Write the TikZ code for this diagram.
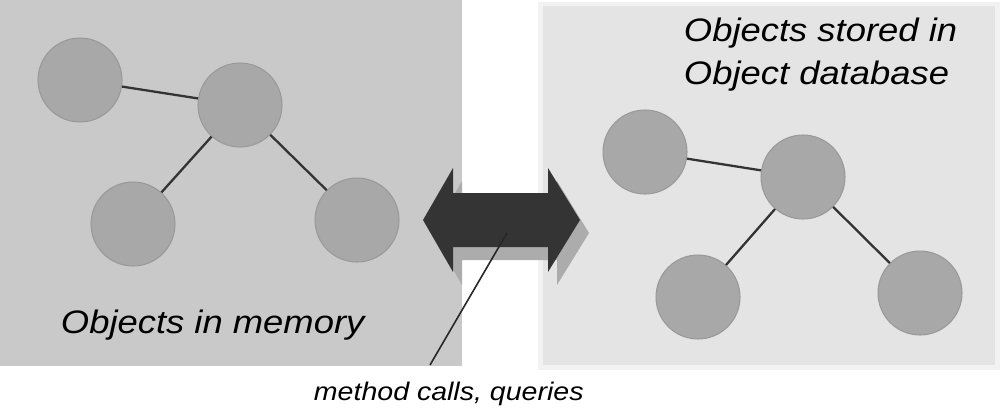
\documentclass[tikz,border=0pt]{standalone}
\usepackage{fontspec}
\setmainfont{Liberation Sans}[FakeStretch=1.12]
\usetikzlibrary{calc}
\definecolor{memgray}{RGB}{201,201,201}
\definecolor{dbgray}{RGB}{228,228,228}
\definecolor{dbedge}{RGB}{242,242,242}
\definecolor{objgray}{RGB}{168,168,168}
\definecolor{arrowdark}{RGB}{52,52,52}
\definecolor{shadegray}{RGB}{172,172,172}

\begin{document}
\begin{tikzpicture}[x=0.02cm,y=-0.02cm,line width=1.1pt,
  obj/.style={circle,fill=objgray,draw=black!40,line width=0.6pt,minimum size=1.68cm,inner sep=0pt},
  link/.style={draw=black!80,line width=1.3pt},
  lbl/.style={font=\itshape\fontsize{18.5}{24.4}\selectfont,align=left,inner sep=0pt}]
  \useasboundingbox (0,0) rectangle (1000,413);
  % fondos de los dos lados
  \fill[memgray] (0,0) rectangle (462,366);
  \fill[dbedge] (538,2) rectangle (1000,370);
  \fill[dbgray] (543,6) rectangle (995,365);
  % objetos en memoria
  \node[obj] (m1) at (80,80){};
  \node[obj] (m2) at (240,105){};
  \node[obj] (m3) at (133,224){};
  \node[obj] (m4) at (357,220){};
  \draw[link] (m1)--(m2) (m2)--(m3) (m2)--(m4);
  \node[lbl,anchor=base west] (memlbl) at (60,333){Objects in memory};
  % objetos en la base de datos
  \node[obj] (d1) at (645,152){};
  \node[obj] (d2) at (803,177){};
  \node[obj] (d3) at (698,297){};
  \node[obj] (d4) at (920,293){};
  \draw[link] (d1)--(d2) (d2)--(d3) (d2)--(d4);
  \node[lbl,anchor=north west] (dblbl) at (683,17){Objects stored in\\Object database};
  % flecha doble con sombra
  \begin{scope}[shift={(9,13)}]
    \fill[shadegray] (423,220)--(453,168)--(453,193)--(548,193)--(548,168)--(580,220)
      --(548,272)--(548,247)--(453,247)--(453,272)--cycle;
  \end{scope}
  \fill[arrowdark] (423,220)--(453,168)--(453,193)--(548,193)--(548,168)--(580,220)
    --(548,272)--(548,247)--(453,247)--(453,272)--cycle;
  \coordinate (hub) at (507,233);
  \node[font=\itshape\fontsize{14.5}{17}\selectfont,anchor=base west,inner sep=0pt] (calls) at (313,400){method calls, queries};
  \coordinate (callend) at (430,365);
  \draw[black!85,line width=0.9pt] (hub)--(callend);
\end{tikzpicture}
\end{document}
